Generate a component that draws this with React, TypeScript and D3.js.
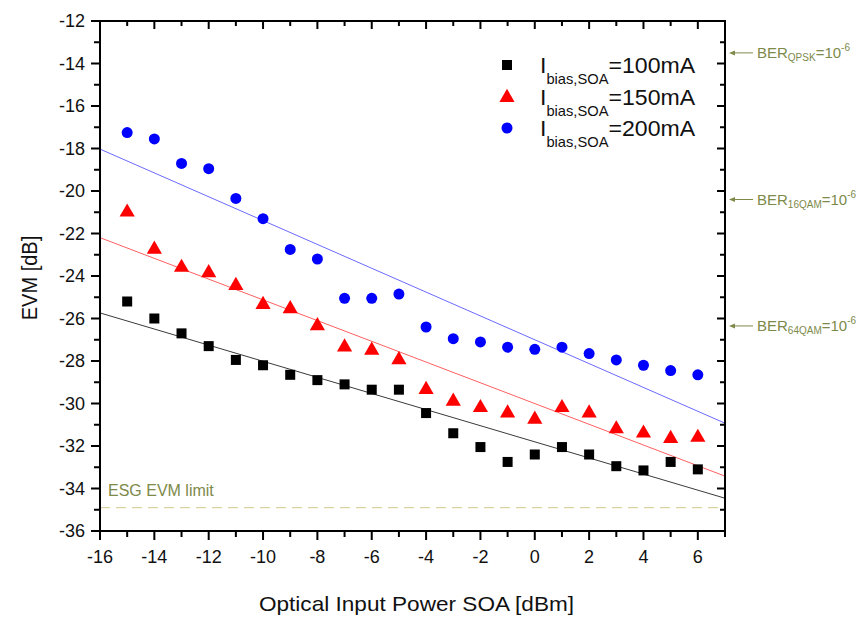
import * as React from "react"
import * as d3 from "d3"

// optical input power [dBm]
const power = [-15, -14, -13, -12, -11, -10, -9, -8, -7, -6, -5, -4, -3, -2, -1, 0, 1, 2, 3, 4, 5, 6]

// EVM [dB] per bias current
const evm100 = [-25.2, -26.0, -26.7, -27.3, -27.95, -28.2, -28.65, -28.9, -29.1, -29.35, -29.35, -30.45, -31.4, -32.05, -32.75, -32.4, -32.05, -32.4, -32.95, -33.15, -32.75, -33.1]
const evm150 = [-20.95, -22.7, -23.55, -23.8, -24.4, -25.3, -25.5, -26.3, -27.3, -27.45, -27.9, -29.3, -29.85, -30.15, -30.4, -30.7, -30.15, -30.4, -31.15, -31.35, -31.6, -31.55]
const evm200 = [-17.25, -17.55, -18.7, -18.95, -20.35, -21.3, -22.75, -23.2, -25.05, -25.05, -24.85, -26.4, -26.95, -27.1, -27.35, -27.45, -27.35, -27.65, -27.95, -28.2, -28.45, -28.65]

const series = [
  { label: "=100mA", values: evm100, color: "#000000", fit: "#3a3a3a", shape: "square" },
  { label: "=150mA", values: evm150, color: "#ff0000", fit: "#ff6060", shape: "triangle" },
  { label: "=200mA", values: evm200, color: "#0000ff", fit: "#6a6aff", shape: "circle" },
]

const berLines = [
  { sub: "QPSK", value: -13.5 },
  { sub: "16QAM", value: -20.4 },
  { sub: "64QAM", value: -26.35 },
]
const esgLimit = -34.9

const xTicks = [-16, -14, -12, -10, -8, -6, -4, -2, 0, 2, 4, 6]
const yTicks = [-12, -14, -16, -18, -20, -22, -24, -26, -28, -30, -32, -34, -36]

const olive = "#7d8a4a"
const font = "Arial, 'Liberation Sans', sans-serif"

function fitLine(xs: number[], ys: number[]) {
  const mx = d3.mean(xs)!
  const my = d3.mean(ys)!
  const sxy = d3.sum(xs, (x, i) => (x - mx) * (ys[i] - my))
  const sxx = d3.sum(xs, (x) => (x - mx) ** 2)
  const b = sxy / sxx
  return (x: number) => my + b * (x - mx)
}

function Marker({ shape, x, y, color }: { shape: string; x: number; y: number; color: string }) {
  if (shape === "square") return <rect x={x - 5} y={y - 5} width={10} height={10} fill={color} />
  if (shape === "triangle") return <path d={d3.symbol(d3.symbolTriangle, 100)()!} transform={`translate(${x},${y + 1})`} fill={color} />
  return <circle cx={x} cy={y} r={5.5} fill={color} />
}

export default function App() {
  const width = 864
  const height = 617
  const margin = { top: 21, right: 139, bottom: 86, left: 100 }

  const x = d3.scaleLinear().domain([-16, 7]).range([margin.left, width - margin.right])
  const y = d3.scaleLinear().domain([-12, -36]).range([margin.top, height - margin.bottom])
  const [x0, x1] = x.range()
  const [y0, y1] = y.range()

  const xMinor = d3.range(-16, 8, 1)
  const yMinor = d3.range(-36, -11, 1)

  return (
    <svg width={width} height={height} style={{ position: "absolute", left: 0, top: 0, background: "#fff" }} fontFamily={font}>
      {/* fit lines */}
      {series.map((s) => {
        const f = fitLine(power, s.values)
        return <line key={s.label} x1={x0} x2={x1} y1={y(f(-16))} y2={y(f(7))} stroke={s.fit} strokeWidth={1} />
      })}

      {/* ESG limit */}
      <line x1={x0} x2={x1} y1={y(esgLimit)} y2={y(esgLimit)} stroke="#d9d5a3" strokeWidth={1.2} strokeDasharray="10,6" />
      <text x={x0 + 8} y={y(esgLimit) - 12} fontSize={16} fill={olive}>ESG EVM limit</text>

      {/* markers */}
      {series.map((s) =>
        s.values.map((v, i) => <Marker key={s.label + i} shape={s.shape} x={x(power[i])} y={y(v)} color={s.color} />)
      )}

      {/* frame */}
      <rect x={x0} y={y0} width={x1 - x0} height={y1 - y0} fill="none" stroke="#000" strokeWidth={2} />

      {/* minor ticks */}
      {xMinor.map((t) => (
        <g key={"xm" + t} stroke="#000" strokeWidth={2}>
          <line x1={x(t)} x2={x(t)} y1={y1} y2={y1 + (t % 2 === 0 ? 9 : 6)} />
          <line x1={x(t)} x2={x(t)} y1={y0} y2={y0 + (t % 2 === 0 ? 8 : 5)} />
        </g>
      ))}
      {yMinor.map((t) => (
        <g key={"ym" + t} stroke="#000" strokeWidth={2}>
          <line x1={x0} x2={x0 - (t % 2 === 0 ? 9 : 6)} y1={y(t)} y2={y(t)} />
          <line x1={x1} x2={x1 - (t % 2 === 0 ? 8 : 5)} y1={y(t)} y2={y(t)} />
        </g>
      ))}

      {/* tick labels */}
      {xTicks.map((t) => (
        <text key={"xl" + t} x={x(t)} y={y1 + 32} textAnchor="middle" fontSize={18} fill="#111">{t}</text>
      ))}
      {yTicks.map((t) => (
        <text key={"yl" + t} x={x0 - 15} y={y(t) + 6} textAnchor="end" fontSize={18} fill="#111">{t}</text>
      ))}

      {/* axis titles */}
      <text transform={`translate(${(x0 + x1) / 2 + 4},611) scale(1.13,1)`} textAnchor="middle" fontSize={20} fill="#111">Optical Input Power SOA [dBm]</text>
      <text transform={`translate(37,${(y0 + y1) / 2 + 2}) rotate(-90) scale(1,1.12)`} textAnchor="middle" fontSize={20} fill="#111">EVM [dB]</text>

      {/* legend */}
      {series.map((s, i) => {
        const ly = 65 + i * 31.5
        return (
          <g key={"lg" + s.label}>
            <Marker shape={s.shape} x={507} y={ly} color={s.color} />
            <text transform={`translate(540,${ly + 8}) scale(1.05,1)`} fontSize={22} fill="#111">
              I<tspan fontSize={14} dy={11}>bias,SOA</tspan><tspan dy={-11} fontSize={22}>{s.label}</tspan>
            </text>
          </g>
        )
      })}

      {/* BER annotations */}
      {berLines.map((b) => (
        <g key={b.sub}>
          <line x1={x1 + 6} x2={x1 + 28} y1={y(b.value)} y2={y(b.value)} stroke={olive} strokeWidth={1} />
          <path d={`M${x1 + 4},${y(b.value)} l6,-2.5 l0,5 z`} fill={olive} />
          <text x={x1 + 32} y={y(b.value) + 5} fontSize={15} fill={olive}>
            BER<tspan fontSize={10} dy={3}>{b.sub}</tspan><tspan dy={-3} fontSize={15}>=10</tspan><tspan fontSize={10} dy={-7}>-6</tspan>
          </text>
        </g>
      ))}
    </svg>
  )
}
